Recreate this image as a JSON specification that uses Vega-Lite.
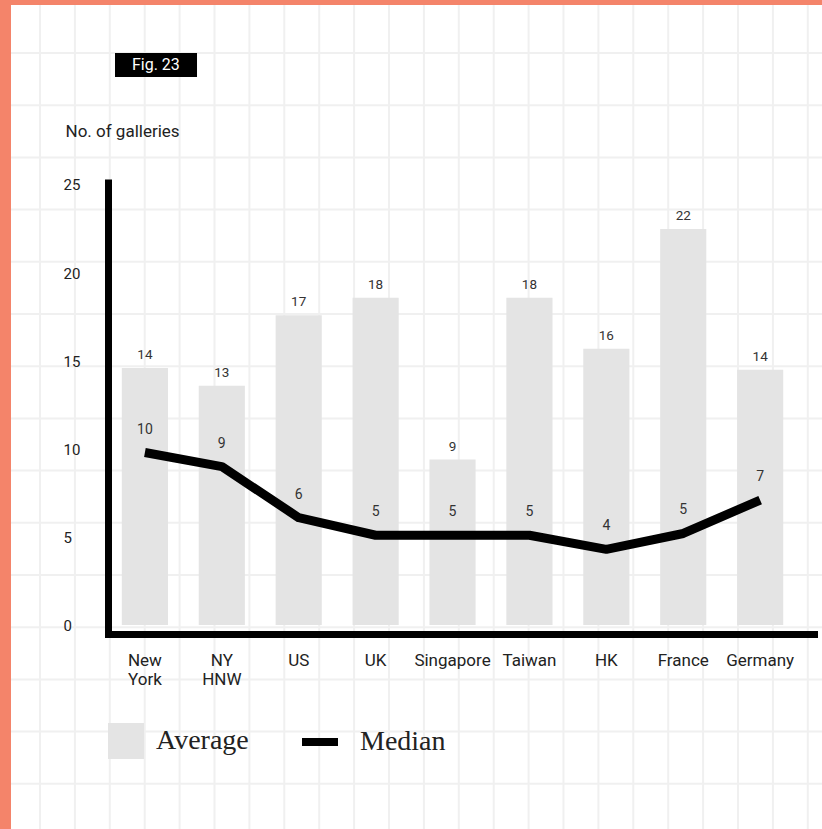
{
  "$schema": "https://vega.github.io/schema/vega-lite/v6.json",
  "width": 811,
  "height": 824,
  "autosize": {"type": "none"},
  "padding": {"left": 11, "top": 5, "right": 0, "bottom": 0},
  "background": "#F4846A",
  "view": {"fill": "white", "stroke": null},
  "config": {"font": "Roboto"},
  "datasets": {
    "galleries": [
      {"market": "New York", "average": 14.6, "avgLabel": 14, "median": 9.8, "medLabel": 10},
      {"market": "NY HNW", "average": 13.6, "avgLabel": 13, "median": 9.0, "medLabel": 9},
      {"market": "US", "average": 17.6, "avgLabel": 17, "median": 6.1, "medLabel": 6},
      {"market": "UK", "average": 18.6, "avgLabel": 18, "median": 5.1, "medLabel": 5},
      {"market": "Singapore", "average": 9.4, "avgLabel": 9, "median": 5.1, "medLabel": 5},
      {"market": "Taiwan", "average": 18.6, "avgLabel": 18, "median": 5.1, "medLabel": 5},
      {"market": "HK", "average": 15.7, "avgLabel": 16, "median": 4.3, "medLabel": 4},
      {"market": "France", "average": 22.5, "avgLabel": 22, "median": 5.2, "medLabel": 5},
      {"market": "Germany", "average": 14.5, "avgLabel": 14, "median": 7.1, "medLabel": 7}
    ],
    "gridCols": [
      {"col": 0}, {"col": 1}, {"col": 2}, {"col": 3}, {"col": 4}, {"col": 5}, {"col": 6}, {"col": 7},
      {"col": 8}, {"col": 9}, {"col": 10}, {"col": 11}, {"col": 12}, {"col": 13}, {"col": 14}, {"col": 15},
      {"col": 16}, {"col": 17}, {"col": 18}, {"col": 19}, {"col": 20}, {"col": 21}, {"col": 22}
    ],
    "gridRows": [
      {"row": 0}, {"row": 1}, {"row": 2}, {"row": 3}, {"row": 4}, {"row": 5}, {"row": 6}, {"row": 7},
      {"row": 8}, {"row": 9}, {"row": 10}, {"row": 11}, {"row": 12}, {"row": 13}, {"row": 14}
    ],
    "fig": [{"label": "Fig. 23"}]
  },
  "layer": [
    {
      "layer": [
        {
          "data": {"name": "gridCols"},
          "mark": {"type": "rule", "stroke": "#f0f0f0", "strokeWidth": 2},
          "encoding": {
            "x": {"field": "col", "type": "quantitative", "scale": {"domain": [-0.831, 22.407], "nice": false, "zero": false}, "axis": null}
          }
        },
        {
          "data": {"name": "gridRows"},
          "mark": {"type": "rule", "stroke": "#f0f0f0", "strokeWidth": 2},
          "encoding": {
            "y": {"field": "row", "type": "quantitative", "scale": {"domain": [-0.92, 14.866], "nice": false, "zero": false, "reverse": true}, "axis": null}
          }
        },
        {
          "data": {"name": "fig"},
          "mark": {"type": "rect", "fill": "#000000"},
          "encoding": {
            "x": {"datum": 2.149, "type": "quantitative"},
            "x2": {"datum": 4.499},
            "y": {"datum": 0, "type": "quantitative"},
            "y2": {"datum": 0.46}
          }
        },
        {
          "data": {"name": "fig"},
          "mark": {"type": "text", "color": "#ffffff", "fontSize": 16, "baseline": "middle", "align": "center"},
          "encoding": {
            "x": {"datum": 3.32, "type": "quantitative"},
            "y": {"datum": 0.23, "type": "quantitative"},
            "text": {"field": "label"}
          }
        }
      ]
    },
    {
      "data": {"name": "galleries"},
      "encoding": {
        "x": {
          "field": "market",
          "type": "nominal",
          "sort": null,
          "scale": {"range": [97, 803], "paddingInner": 0.4, "paddingOuter": 0.29, "align": 0.31},
          "axis": {
            "orient": "bottom",
            "offset": -195,
            "zindex": 1,
            "title": null,
            "domainColor": "#000000",
            "domainWidth": 7,
            "domainCap": "square",
            "ticks": false,
            "grid": false,
            "labelAngle": 0,
            "labelFontSize": 17,
            "labelColor": "#222222",
            "labelPadding": 18,
            "labelBaseline": "top",
            "labelLineHeight": 19,
            "labelExpr": "split(datum.label, ' ')"
          }
        }
      },
      "layer": [
        {
          "mark": {"type": "bar"},
          "encoding": {
            "y": {
              "field": "average",
              "type": "quantitative",
              "title": "No. of galleries",
              "scale": {"domain": [-0.511, 25.142], "range": [629, 177.5], "nice": false, "zero": false},
              "axis": {
                "orient": "left",
                "offset": -97,
                "zindex": 1,
                "values": [0, 5, 10, 15, 20, 25],
                "grid": false,
                "ticks": false,
                "domainColor": "#000000",
                "domainWidth": 7,
                "domainCap": "square",
                "labelAlign": "left",
                "labelPadding": 45,
                "labelFontSize": 15,
                "labelColor": "#222222",
                "labelBaseline": "middle",
                "titleAngle": 0,
                "titleAlign": "left",
                "titleBaseline": "middle",
                "titleX": -43,
                "titleY": 126,
                "titleFontSize": 17,
                "titleFontWeight": "normal",
                "titleColor": "#222222"
              }
            },
            "y2": {"datum": 0},
            "color": {
              "datum": "Average",
              "type": "nominal",
              "scale": {"domain": ["Average", "Median"], "range": ["#e4e4e4", "#000000"]},
              "legend": {
                "orient": "none",
                "legendX": 101,
                "legendY": 722,
                "direction": "horizontal",
                "title": null,
                "padding": 0,
                "symbolSize": 1296,
                "labelFont": "Liberation Serif",
                "labelFontSize": 28,
                "labelColor": "#222222",
                "labelOffset": 16,
                "columnPadding": 37,
                "zindex": 1,
                "encode": {
                  "symbols": {
                    "update": {
                      "shape": {"signal": "datum.value === 'Median' ? 'stroke' : 'square'"},
                      "fill": {"signal": "datum.value === 'Median' ? 'transparent' : '#e4e4e4'"},
                      "stroke": {"signal": "datum.value === 'Median' ? '#000000' : 'transparent'"},
                      "strokeWidth": {"signal": "datum.value === 'Median' ? 8 : 0"},
                      "opacity": {"value": 1}
                    }
                  },
                  "labels": {
                    "update": {
                      "dx": {"signal": "datum.value === 'Median' ? 10 : 0"}
                    }
                  }
                }
              }
            }
          }
        },
        {
          "mark": {"type": "line", "strokeWidth": 9, "strokeJoin": "round", "strokeCap": "butt"},
          "encoding": {
            "y": {"field": "median", "type": "quantitative", "title": "No. of galleries"},
            "color": {"datum": "Median", "type": "nominal"}
          }
        },
        {
          "mark": {"type": "text", "fontSize": 13.5, "color": "#333333", "baseline": "middle", "dy": -13},
          "encoding": {
            "y": {"field": "average", "type": "quantitative", "title": "No. of galleries"},
            "text": {"field": "avgLabel"}
          }
        },
        {
          "mark": {"type": "text", "fontSize": 14, "color": "#333333", "baseline": "middle", "dy": -23},
          "encoding": {
            "y": {"field": "median", "type": "quantitative", "title": "No. of galleries"},
            "text": {"field": "medLabel"}
          }
        }
      ]
    }
  ],
  "resolve": {"scale": {"x": "independent", "y": "independent"}}
}
